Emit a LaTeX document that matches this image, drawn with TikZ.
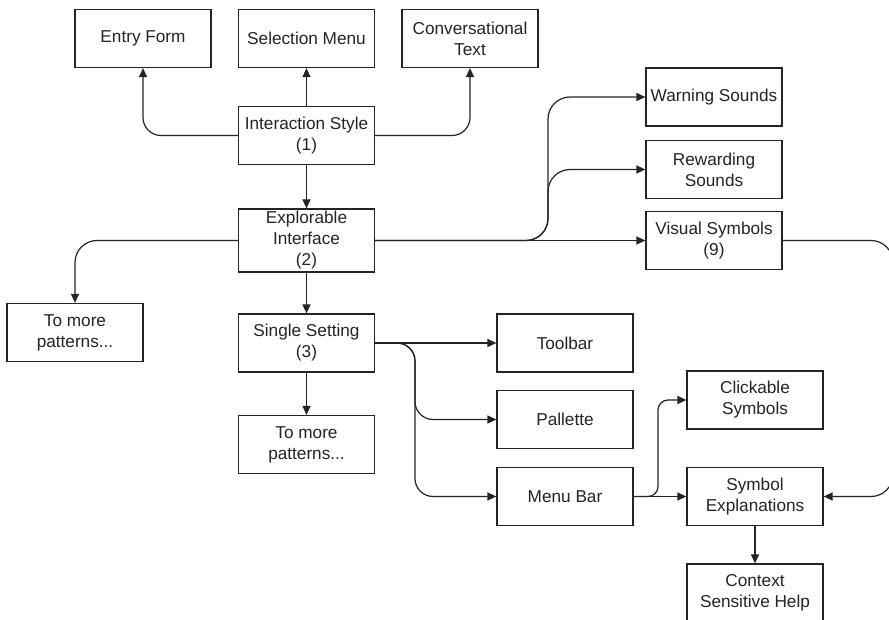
\documentclass[tikz,border=0pt]{standalone}
\usepackage{fontspec}
\setmainfont{Liberation Sans}
\usetikzlibrary{arrows.meta}
\definecolor{ink}{RGB}{38,35,36}
\begin{document}
\begin{tikzpicture}[x=1pt,y=-1pt,
  box/.style={draw=ink, line width=1.2pt, minimum width=136pt, minimum height=58pt,
    inner sep=0pt, align=center, text=ink, font=\fontsize{17.2}{21}\selectfont},
  conn/.style={draw=ink, line width=1.2pt, -{Triangle[length=9pt,width=8pt]}},
]
\useasboundingbox (0,0) rectangle (889,620);
\clip (0,0) rectangle (889,620);
% nodes
\node[box] (ef) at (143,38.5) {Entry Form};
\node[box] (sm) at (306.5,38.5) {Selection Menu};
\node[box] (ct) at (470,38.5) {Conversational\\Text};
\node[box] (is) at (306.5,135.5) {Interaction Style\\(1)};
\node[box, minimum height=63pt] (ei) at (306.5,240.5) {Explorable\\Interface\\(2)};
\node[box] (ss) at (306.5,343) {Single Setting\\(3)};
\node[box] (tm2) at (306.5,444.5) {To more\\patterns...};
\node[box] (tm1) at (75,332.5) {To more\\patterns...};
\node[box] (ws) at (714,97) {Warning Sounds};
\node[box] (rs) at (714,169.5) {Rewarding\\Sounds};
\node[box] (vs) at (714,240.5) {Visual Symbols\\(9)};
\node[box] (tb) at (565,343) {Toolbar};
\node[box] (pa) at (565,419.5) {Pallette};
\node[box] (mb) at (565,496.5) {Menu Bar};
\node[box] (cs) at (755,400) {Clickable\\Symbols};
\node[box] (se) at (755,496.5) {Symbol\\Explanations};
\node[box] (ch) at (755,593) {Context\\Sensitive Help};
% branch coordinates
\coordinate (bx1) at (548,0);
\coordinate (bx2) at (415,0);
\coordinate (bx3) at (658,0);
\coordinate (bx4) at (893,0);
% connectors
\draw[conn, rounded corners=18pt] (is.west) -| (ef.south);
\draw[conn] (is.north) -- (sm.south);
\draw[conn, rounded corners=18pt] (is.east) -| (ct.south);
\draw[conn] (is.south) -- (ei.north);
\draw[conn, rounded corners=22pt] (ei.west) -| (tm1.north);
\draw[conn] (ei.south) -- (ss.north);
\draw[conn] (ss.south) -- (tm2.north);
\draw[conn] (ei.east) -- (vs.west);
\draw[conn, rounded corners=22pt] (ei.east) -| (bx1 |- ws.west) -- (ws.west);
\draw[conn, rounded corners=22pt] (ei.east) -| (bx1 |- rs.west) -- (rs.west);
\draw[conn, rounded corners=22pt] (vs.east) -| (bx4 |- se.east) -- (se.east);
\draw[conn] (ss.east) -- (tb.west);
\draw[conn, rounded corners=18pt] (ss.east) -| (bx2 |- pa.west) -- (pa.west);
\draw[conn, rounded corners=18pt] (ss.east) -| (bx2 |- mb.west) -- (mb.west);
\draw[conn] (mb.east) -- (se.west);
\draw[conn, rounded corners=10pt] (mb.east) -| (bx3 |- cs.west) -- (cs.west);
\draw[conn] (se.south) -- (ch.north);
\end{tikzpicture}
\end{document}
